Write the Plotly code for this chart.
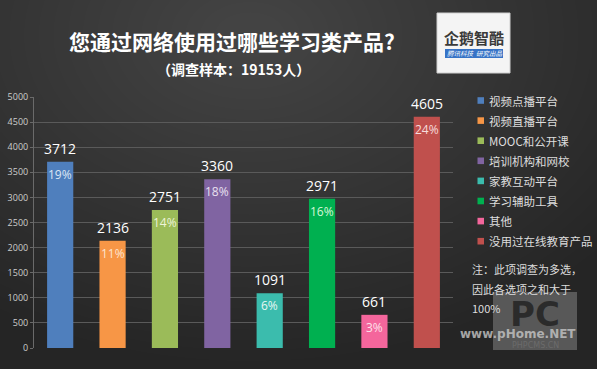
import plotly.graph_objects as go

categories = ["视频点播平台", "视频直播平台", "MOOC和公开课", "培训机构和网校",
              "家教互动平台", "学习辅助工具", "其他", "没用过在线教育产品"]
values = [3712, 2136, 2751, 3360, 1091, 2971, 661, 4605]
percents = ["19%", "11%", "14%", "18%", "6%", "16%", "3%", "24%"]
colors = ["#4f7fbd", "#f79646", "#9bbb59", "#8064a2", "#3bbcad", "#00b050", "#f4669c", "#c0504d"]
pct_colors = ["#dbe6f4", "#fde4cf", "#eef4d8", "#e8e0f0", "#e6f7f4", "#d6f7d8", "#fde0ea", "#f6dcdb"]
y_ticks = [0, 500, 1000, 1500, 2000, 2500, 3000, 3500, 4000, 4500, 5000]

title = "您通过网络使用过哪些学习类产品?"
subtitle = "（调查样本：19153人）"
note_lines = ["注：此项调查为多选，", "因此各选项之和大于", "100%"]

W, H = 597, 369
L, R, T, B = 34, 144, 97, 21
PW, PH = W - L - R, H - T - B


def xp(px):
    return (px - L) / PW


def yp(py):
    return (H - B - py) / PH


CJK = "Noto Sans CJK SC"
NUM = "Open Sans, Noto Sans CJK SC"

fig = go.Figure()

for c, v, col in zip(categories, values, colors):
    fig.add_trace(go.Bar(x=[c], y=[v], width=0.5, name=c, marker=dict(color=col, line=dict(width=0)),
                         showlegend=False, hoverinfo="skip"))

annotations = []
shapes = []


def ptext(x, y, text, size, color, family=CJK, xanchor="center"):
    annotations.append(dict(xref="paper", yref="paper", x=xp(x), y=yp(y), text=text, showarrow=False,
                            xanchor=xanchor, yanchor="middle",
                            font=dict(size=size, color=color, family=family)))


# background glow
N = 30
for k in range(N):
    f = 1 - k / N
    rx = 1.05 * f + 0.05
    ry = 1.25 * f + 0.05
    shapes.append(dict(type="circle", xref="paper", yref="paper", layer="below",
                       x0=xp(250) - rx, x1=xp(250) + rx,
                       y0=yp(35) - ry, y1=yp(35) + ry,
                       fillcolor="rgba(255,255,255,0.0085)", line=dict(width=0)))

for c, v, p, pc in zip(categories, values, percents, pct_colors):
    annotations.append(dict(x=c, y=v, text=str(v), showarrow=False, yanchor="bottom", yshift=2,
                            font=dict(size=14, color="#ffffff", family=NUM)))
    annotations.append(dict(x=c, y=v, text=p, showarrow=False, yanchor="top", yshift=-2,
                            font=dict(size=12, color=pc, family=NUM)))

ptext(232, 41, "<b>" + title + "</b>", 21, "#ffffff")
ptext(233, 69, "<b>" + subtitle + "</b>", 14, "#ffffff")

# legend drawn as markers + labels
for i, (c, col) in enumerate(zip(categories, colors)):
    cy = 100.5 + i * 20.1
    shapes.append(dict(type="rect", xref="paper", yref="paper", x0=xp(477.5), x1=xp(484),
                       y0=yp(cy + 3.3), y1=yp(cy - 3.3), fillcolor=col, line=dict(width=0)))
    ptext(487, cy, c, 11.5, "#dddddd", xanchor="left")

for i, line in enumerate(note_lines):
    ptext(470, 269 + i * 19.5, line, 11, "#dddddd", xanchor="left")

# logo
shapes.append(dict(type="rect", xref="paper", yref="paper", x0=xp(437), x1=xp(510), y0=yp(73), y1=yp(13),
                   fillcolor="#f4f4f4", line=dict(color="#cfcfcf", width=1), layer="above"))
shapes.append(dict(type="rect", xref="paper", yref="paper", x0=xp(445), x1=xp(503), y0=yp(58), y1=yp(49),
                   fillcolor="#3673c6", line=dict(width=0), layer="above"))
ptext(474, 37.5, "<b>企鹅智酷</b>", 15, "#3a3a3a")
ptext(474, 53.5, "<i>腾讯科技  研究出品</i>", 6.5, "#ffffff")

# watermark
shapes.append(dict(type="rect", xref="paper", yref="paper", x0=xp(493), x1=xp(577), y0=yp(350), y1=yp(292),
                   fillcolor="rgba(150,150,150,0.45)", line=dict(width=0), layer="below"))
ptext(535, 314, "<b>PC</b>", 34, "rgba(35,35,35,0.85)", family="DejaVu Sans")
ptext(518, 334, "<b>www.pHome.NET</b>", 12, "rgba(200,200,200,0.8)", family="DejaVu Sans")
ptext(535, 345, "PHPCMS.CN", 8, "rgba(110,110,110,0.9)", family="DejaVu Sans")

fig.update_layout(
    width=W, height=H,
    margin=dict(l=L, r=R, t=T, b=B, autoexpand=False),
    paper_bgcolor="#252525",
    plot_bgcolor="rgba(0,0,0,0)",
    barmode="overlay",
    showlegend=False,
    xaxis=dict(type="category", categoryarray=categories, range=[-0.5, 7.5],
               showticklabels=False, showgrid=False, zeroline=False, showline=False),
    yaxis=dict(range=[0, 5000], tickvals=y_ticks, gridcolor="#5a5a5a", gridwidth=1, automargin=False,
               showline=True, linecolor="#6a6a6a", ticks="outside", ticklen=3, tickcolor="#6a6a6a",
               zeroline=False, tickfont=dict(size=9, color="#cccccc", family=NUM)),
    annotations=annotations,
    shapes=shapes,
)

fig.write_html("out.html", config={"displayModeBar": False},
               post_script="document.body.style.margin='0';document.body.style.overflow='hidden';")
